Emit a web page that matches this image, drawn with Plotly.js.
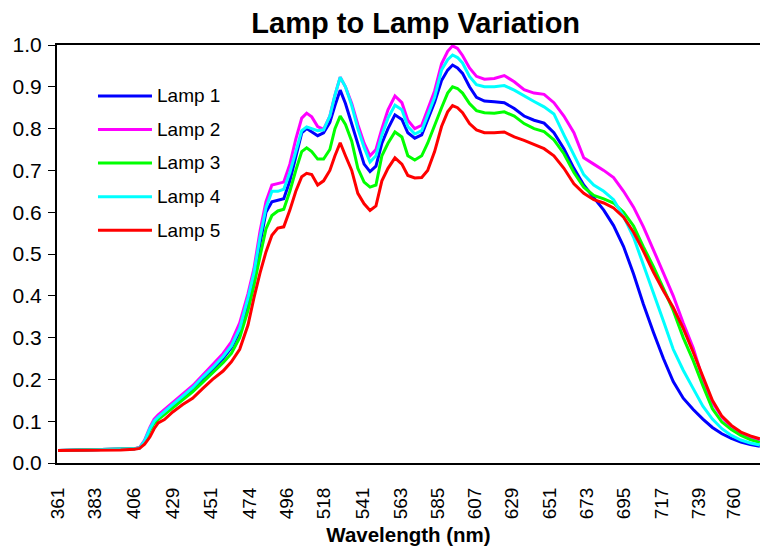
<!DOCTYPE html>
<html>
<head>
<meta charset="utf-8">
<script src="https://cdn.plot.ly/plotly-3.0.1.min.js"></script>
<style>html,body{margin:0;padding:0;background:#fff;}#chart{width:760px;height:546px;}</style>
</head>
<body>
<div id="chart"></div>
<script>
const chartTitle = "Lamp to Lamp Variation";
const xTitle = "Wavelength (nm)";
const tickLabels = [361, 383, 406, 429, 451, 474, 496, 518, 541, 563, 585, 607, 629, 651, 673, 695, 717, 739, 760];
const seriesNames = ["Lamp 1", "Lamp 2", "Lamp 3", "Lamp 4", "Lamp 5"];
const seriesColors = ["#0000FF", "#FF00FF", "#00FF00", "#00FFFF", "#FF0000"];

const wavelength = [361, 373.9, 385.8, 398.0, 406, 409.1, 412.1, 415.2, 417.7, 420.1,
  423.8, 428.7, 434.6, 440.4, 446.3, 452.2, 458.4, 463.3, 468.2, 473.1,
  476.6, 480.2, 483.7, 487.2, 490.7, 494.2, 497.8, 501.3, 504.8, 507.7,
  510.7, 514.2, 517.7, 521.4, 524.4, 527.5, 530.6, 534.3, 537.9, 541.6,
  545.1, 548.6, 552.1, 555.7, 559.8, 563.9, 567.4, 571.5, 575.6, 579.1,
  583.2, 587.3, 590.9, 593.8, 596.7, 599.7, 603.8, 607.9, 612.6, 618.4,
  624.3, 630.2, 636.0, 641.9, 647.8, 653.6, 659.5, 665.4, 671.2, 677.1,
  683.0, 688.8, 694.7, 700.6, 706.4, 712.3, 718.2, 724.0, 729.9, 735.8,
  741.5, 747.1, 752.7, 758.3, 763.9, 769.5, 775.1];

const lamp1 = [.030,.031,.031,.032,.034,.036,.052,.080,.098,.108,
  .120,.137,.157,.176,.200,.224,.250,.276,.315,.385,
  .445,.525,.600,.625,.628,.632,.675,.730,.790,.800,
  .793,.783,.790,.815,.855,.892,.860,.810,.760,.715,
  .697,.710,.765,.800,.833,.822,.790,.777,.785,.823,
  .863,.915,.940,.952,.945,.932,.900,.875,.866,.864,
  .862,.848,.830,.820,.813,.790,.752,.705,.665,.635,
  .605,.568,.518,.452,.380,.313,.250,.195,.155,.128,
  .105,.085,.070,.059,.050,.044,.040];

const lamp2 = [.030,.031,.031,.032,.034,.037,.055,.085,.105,.115,
  .128,.145,.165,.185,.210,.235,.262,.290,.335,.405,
  .465,.555,.625,.665,.668,.672,.715,.775,.825,.837,
  .828,.805,.798,.830,.880,.923,.900,.860,.810,.765,
  .735,.750,.800,.845,.878,.862,.820,.800,.808,.845,
  .890,.955,.985,.998,.992,.975,.945,.925,.918,.920,
  .927,.912,.893,.885,.882,.862,.830,.790,.730,.715,
  .700,.683,.650,.612,.565,.510,.455,.400,.335,.275,
  .200,.145,.110,.086,.070,.060,.054];

const lamp3 = [.030,.031,.031,.032,.034,.036,.050,.078,.095,.104,
  .116,.132,.152,.170,.193,.215,.240,.262,.300,.365,
  .425,.495,.560,.592,.603,.607,.650,.700,.745,.754,
  .745,.727,.727,.750,.800,.830,.810,.770,.705,.672,
  .660,.665,.735,.765,.792,.780,.735,.725,.735,.765,
  .810,.850,.885,.900,.896,.885,.860,.843,.838,.837,
  .840,.830,.812,.800,.793,.773,.740,.695,.660,.640,
  .632,.622,.600,.567,.517,.470,.418,.365,.300,.245,
  .185,.130,.098,.080,.066,.056,.049];

const lamp4 = [.030,.031,.031,.032,.034,.036,.053,.082,.100,.110,
  .122,.140,.160,.180,.205,.228,.255,.280,.322,.395,
  .455,.540,.610,.650,.650,.655,.695,.745,.795,.804,
  .800,.795,.797,.830,.880,.923,.900,.855,.800,.755,
  .720,.735,.785,.825,.856,.845,.805,.787,.795,.832,
  .875,.940,.965,.976,.970,.957,.925,.905,.900,.900,
  .903,.892,.878,.865,.852,.835,.785,.735,.690,.665,
  .650,.630,.590,.540,.475,.410,.340,.272,.222,.178,
  .136,.105,.082,.066,.055,.048,.043];

const lamp5 = [.030,.030,.031,.031,.033,.035,.045,.062,.082,.096,
  .104,.122,.140,.155,.178,.200,.220,.242,.272,.330,
  .395,.455,.505,.545,.562,.565,.605,.650,.685,.693,
  .690,.665,.675,.700,.735,.766,.735,.700,.645,.620,
  .604,.615,.675,.705,.730,.715,.688,.682,.683,.700,
  .745,.805,.840,.855,.850,.838,.812,.797,.790,.790,
  .792,.780,.772,.762,.752,.735,.705,.668,.645,.630,
  .622,.610,.588,.552,.507,.457,.412,.372,.322,.265,
  .205,.150,.112,.090,.074,.065,.058];

const seriesValues = [lamp1, lamp2, lamp3, lamp4, lamp5];

const FONT = '"Liberation Sans", Arial, Helvetica, sans-serif';

const traces = seriesValues.map((vals, i) => ({
  type: 'scatter',
  mode: 'lines',
  x: wavelength,
  y: vals,
  name: seriesNames[i],
  line: {color: seriesColors[i], width: 3},
  showlegend: false,
  hoverinfo: 'skip'
}));

// Custom legend (sample line + label), placed in paper coordinates
const legendX0 = 0.0583, legendX1 = 0.1351, legendTextX = 0.139;
const legendY = [0.878, 0.798, 0.718, 0.637, 0.557];
const shapes = [];
const annotations = [];
seriesNames.forEach((name, i) => {
  shapes.push({type: 'line', xref: 'paper', yref: 'paper',
    x0: legendX0, x1: legendX1, y0: legendY[i], y1: legendY[i],
    line: {color: seriesColors[i], width: 3}});
  annotations.push({xref: 'paper', yref: 'paper', x: legendTextX, y: legendY[i],
    xanchor: 'left', yanchor: 'middle', showarrow: false, text: name,
    font: {family: FONT, size: 19, color: '#000'}});
});

const layout = {
  width: 760, height: 546,
  margin: {l: 57, r: 0, t: 45, b: 83},
  paper_bgcolor: '#fff', plot_bgcolor: '#fff',
  font: {family: FONT, color: '#000'},
  title: {text: '<b>' + chartTitle + '</b>', font: {family: FONT, size: 29, color: '#000'},
    xref: 'container', x: 0.547, xanchor: 'center', yref: 'container', y: 0.958, yanchor: 'middle'},
  xaxis: {
    range: [360.4, 775.2],
    tickmode: 'array', tickvals: tickLabels, ticktext: tickLabels.map(String),
    tickangle: -90, ticks: '', ticklabelstandoff: 15,
    tickfont: {family: FONT, size: 19, color: '#000'},
    showline: true, linecolor: '#000', linewidth: 2, mirror: true,
    showgrid: false, zeroline: false,
    title: {text: '<b>' + xTitle + '</b>', font: {family: FONT, size: 20.5, color: '#000'}, standoff: 14}
  },
  yaxis: {
    range: [0, 1.0], dtick: 0.1, tickformat: '.1f',
    ticks: 'outside', ticklen: 7, tickwidth: 1, tickcolor: '#000',
    ticklabelstandoff: 2,
    tickfont: {family: FONT, size: 21, color: '#000'},
    showline: true, linecolor: '#000', linewidth: 2,
    showgrid: false, zeroline: false
  },
  shapes: shapes,
  annotations: annotations,
  showlegend: false
};

Plotly.newPlot('chart', traces, layout, {staticPlot: true, displayModeBar: false});
</script>
</body>
</html>
